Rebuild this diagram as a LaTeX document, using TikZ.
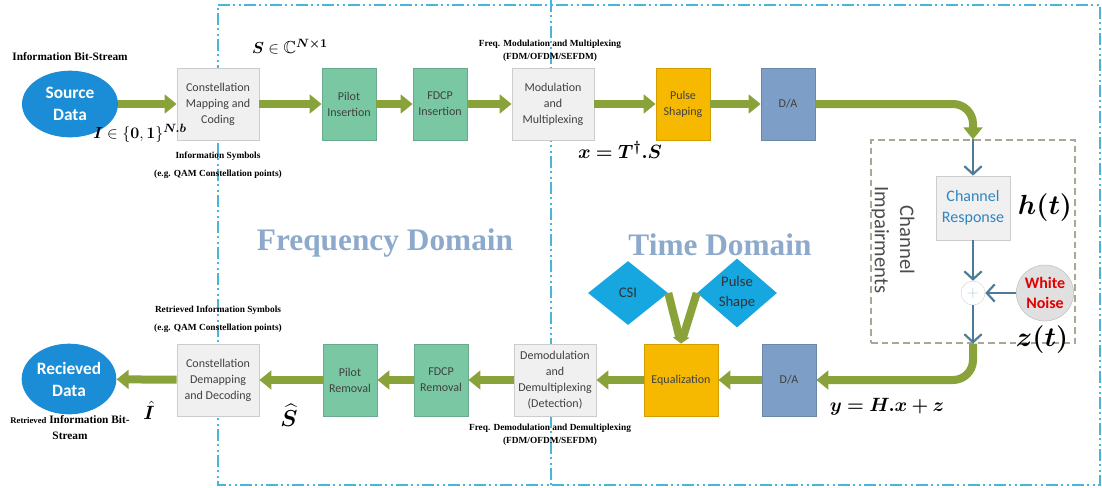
\documentclass[tikz,border=0pt]{standalone}
\usepackage{amsmath,amssymb,bm}
\usepackage{fontspec}
\setmainfont{Liberation Serif}
\newfontfamily\calib{Carlito}
\usetikzlibrary{shapes.geometric,arrows.meta}

\definecolor{arrowgreen}{RGB}{137,163,58}
\definecolor{srcblue}{RGB}{26,141,214}
\definecolor{tealfill}{RGB}{122,200,163}
\definecolor{goldfill}{RGB}{246,185,0}
\definecolor{dafill}{RGB}{125,158,198}
\definecolor{diamblue}{RGB}{22,166,224}
\definecolor{framecyan}{RGB}{72,182,216}
\definecolor{linkblue}{RGB}{76,122,152}
\definecolor{domaintext}{RGB}{141,169,203}
\definecolor{chantext}{RGB}{46,134,193}
\definecolor{noisered}{RGB}{226,0,0}
\definecolor{impgray}{RGB}{168,168,152}

\tikzset{
  block/.style={draw=black!20, line width=0.6pt, minimum height=54pt, inner sep=1pt, align=center, text=black!75, font=\calib\fontsize{9}{12}\selectfont},
  grayblock/.style={block, fill=black!6, minimum width=61.5pt},
  tealblock/.style={block, fill=tealfill, draw=tealfill!85!black, minimum width=40.5pt},
  goldblock/.style={block, fill=goldfill, draw=goldfill!85!black, minimum width=40.5pt},
  dablock/.style={block, fill=dafill, draw=dafill!85!black, minimum width=40.5pt},
  dataellipse/.style={ellipse, fill=srcblue, minimum width=72pt, minimum height=50pt, inner sep=0pt, align=center, text=white, font=\calib\bfseries\fontsize{13}{16.5}\selectfont},
  infodiamond/.style={diamond, fill=diamblue, minimum width=60pt, minimum height=48pt, inner sep=0pt, align=center, text=black!80, font=\calib\fontsize{11}{15}\selectfont},
  greenarrow/.style={draw=arrowgreen, line width=6pt, -{Triangle[length=9pt,width=14pt]}},
  bluearrow/.style={draw=linkblue, line width=2pt, -{Straight Barb[length=6pt,width=13pt,line width=1.6pt]}},
  framedash/.style={draw=framecyan, line width=1.2pt, dash pattern=on 9pt off 2.5pt on 1.5pt off 2.5pt on 1.5pt off 2.5pt},
  symnote/.style={align=center, font=\bfseries\fontsize{7}{13.5}\selectfont},
  freqnote/.style={align=center, font=\bfseries\fontsize{7}{9.75}\selectfont},
  mathlabel/.style={inner sep=0.75pt}
}

\begin{document}
\begin{tikzpicture}[x=0.75pt,y=0.75pt,yscale=-1,xscale=1]
\useasboundingbox (0,0) rectangle (1102,487);

%Frame: dash-dot domain borders
\draw [framedash] (218,5) -- (1100,5) -- (1100,485) -- (218,485) -- cycle ;
\draw [framedash] (551,0) -- (551,485) ;

%Shape: Channel impairments box
\node [draw=impgray, line width=0.9pt, dash pattern=on 5pt off 3pt, minimum width=153pt, minimum height=152.25pt] (imp) at (973,241.5) {};

% Transmitter chain
\node [dataellipse] (src) at (70,104) {Source\\Data};
\node [grayblock] (map) at (218,104) {Constellation\\Mapping and\\Coding};
\node [tealblock] (pilot) at (349,104) {Pilot\\Insertion};
\node [tealblock] (fdcp) at (440,104) {FDCP\\Insertion};
\node [grayblock] (mod) at (553,104) {Modulation\\and\\Multiplexing};
\node [goldblock] (pulse) at (683,104) {Pulse\\Shaping};
\node [dablock] (da) at (788,104) {D/A};

% Channel
\node [block, fill=black!6, minimum width=55.5pt, minimum height=48pt, text=chantext, font=\calib\fontsize{12}{15.5}\selectfont] (chan) at (973,208) {Channel\\Response};
\node [circle, draw=black!15, fill=white, minimum size=18pt, inner sep=0pt, text=linkblue!40, font=\large] (sum) at (973,293) {$+$};
\node [ellipse, draw=black!25, fill=black!12, minimum width=43pt, minimum height=42pt, inner sep=0pt, align=center, text=noisered, font=\calib\bfseries\fontsize{12}{15}\selectfont] (noise) at (1045,293) {White\\Noise};
\node [rotate=-90, align=center, text=black!70, font=\calib\fontsize{15.5}{19}\selectfont] (impl) at (893,240) {Channel\\Impairments};

% Receiver chain
\node [dablock] (da2) at (789,380) {D/A};
\node [goldblock, minimum width=55.5pt] (eq) at (681,380) {Equalization};
\node [infodiamond] (csi) at (628,293) {CSI};
\node [infodiamond] (pshape) at (737,293) {Pulse\\Shape};
\node [grayblock] (demod) at (555,380) {Demodulation\\and\\Demultiplexing\\(Detection)};
\node [tealblock] (fdcpr) at (441,380) {FDCP\\Removal};
\node [tealblock] (pilotr) at (350,380) {Pilot\\Removal};
\node [grayblock] (demap) at (218,380) {Constellation\\Demapping\\and Decoding};
\node [dataellipse, minimum width=71pt, minimum height=53pt] (rcv) at (69,379) {Recieved\\Data};

%Straight Lines: transmitter arrows
\draw [greenarrow] (src) -- (map) ;
\draw [greenarrow] (map) -- (pilot) ;
\draw [greenarrow] (pilot) -- (fdcp) ;
\draw [greenarrow] (fdcp) -- (mod) ;
\draw [greenarrow] (mod) -- (pulse) ;
\draw [greenarrow] (pulse) -- (da) ;
\draw [greenarrow, rounded corners=15pt] (da.east) -| (imp.north) ;

%Straight Lines: channel arrows
\draw [bluearrow] (imp.north) -- (chan) ;
\draw [bluearrow] (chan) -- (sum) ;
\draw [bluearrow] (noise) -- (sum) ;
\draw [bluearrow] (sum) -- (imp.south) ;

%Straight Lines: receiver arrows
\draw [greenarrow, rounded corners=15pt] (imp.south) |- (da2.east) ;
\draw [greenarrow] (da2) -- (eq) ;
\draw [greenarrow, -{Triangle[length=6pt,width=9pt]}] (csi.east) -- (eq.north) ;
\draw [greenarrow, -{Triangle[length=6pt,width=9pt]}] (pshape.west) -- (eq.north) ;
\draw [greenarrow] (eq) -- (demod) ;
\draw [greenarrow] (demod) -- (fdcpr) ;
\draw [greenarrow] (fdcpr) -- (pilotr) ;
\draw [greenarrow] (pilotr) -- (demap) ;
\draw [greenarrow] (demap) -- (rcv) ;

% Text Node
\node [font=\bfseries\fontsize{8.5}{10}\selectfont] (bitin) at (70,57) {Information Bit-Stream};
% Text Node
\node [symnote] (symin) at (218,165) {Information Symbols\\(e.g. QAM Constellation points)};
% Text Node
\node [freqnote] (modnote) at (550,50.5) {Freq. Modulation and Multiplexing\\(FDM/OFDM/SEFDM)};
% Text Node
\node [symnote] (symout) at (218,319) {Retrieved Information Symbols\\(e.g. QAM Constellation points)};
% Text Node
\node [freqnote] (demodnote) at (550,434.5) {Freq. Demodulation and Demultiplexing\\(FDM/OFDM/SEFDM)};
% Text Node
\node [align=center, font=\bfseries\fontsize{8.5}{12}\selectfont] (bitout) at (70,428) {{\fontsize{6.5}{8}\selectfont Retrieved} Information Bit-\\Stream};

% Text Node
\node [text=domaintext, font=\bfseries\fontsize{23.5}{28}\selectfont] (freqdom) at (385,243) {Frequency Domain};
% Text Node
\node [text=domaintext, font=\bfseries\fontsize{23.5}{28}\selectfont] (timedom) at (720,245) {Time Domain};

% Math labels
\node [mathlabel, font=\fontsize{13}{15}\selectfont] (Slab) at (290,47) {$\bm{S}\in\mathbb{C}^{\bm{N\times 1}}$};
\node [mathlabel, font=\fontsize{13}{15}\selectfont] (Ilab) at (140,133) {$\bm{I}\in\{\bm{0},\bm{1}\}^{\bm{N.b}}$};
\node [mathlabel, font=\fontsize{15}{18}\selectfont] (xlab) at (620,150) {$\bm{x=T^{\dagger}.S}$};
\node [mathlabel, font=\fontsize{20}{24}\selectfont] (hlab) at (1045,208) {$\bm{h(t)}$};
\node [mathlabel, font=\fontsize{20}{24}\selectfont] (zlab) at (1042,340) {$\bm{z(t)}$};
\node [mathlabel, font=\fontsize{15}{18}\selectfont] (ylab) at (887,407) {$\bm{y=H.x+z}$};
\node [mathlabel, font=\fontsize{15}{18}\selectfont] (Ihat) at (149,410) {$\bm{\hat{I}}$};
\node [mathlabel, font=\fontsize{16}{19}\selectfont] (Shat) at (289,415) {$\bm{\widehat{S}}$};

\end{tikzpicture}
\end{document}
